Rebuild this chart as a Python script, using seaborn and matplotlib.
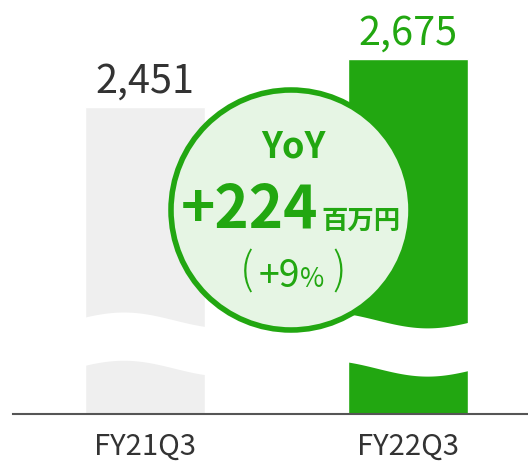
import numpy as np
import pandas as pd
import matplotlib.pyplot as plt
import seaborn as sns
from matplotlib.patches import Ellipse

# ---------------------------------------------------------------------------
# Data
# ---------------------------------------------------------------------------
periods = ["FY21Q3", "FY22Q3"]
sales = [2451, 2675]
value_labels = ["2,451", "2,675"]
yoy_diff = "+224"
yoy_unit = "百万円"
yoy_pct = "+9"

GREEN = "#22a711"
GRAY_BAR = "#efefef"
DARK = "#333333"
CIRCLE_FILL = "#e6f5e4"

sns.set_style("white")
plt.rcParams["font.family"] = ["Noto Sans CJK JP", "DejaVu Sans"]

W, H = 528, 466
fig = plt.figure(figsize=(W / 100, H / 100), dpi=100)
# axes laid out in pixel units of the target picture
ax = fig.add_axes([13 / W, 52.3 / H, 515 / W, 413.7 / H])

df = pd.DataFrame({"period": periods, "sales": sales})
sns.barplot(data=df, x="period", y="sales", hue="period",
            palette=[GRAY_BAR, GREEN], width=0.456, legend=False,
            saturation=1, ax=ax, zorder=1)

ax.set_xlim(-0.502, 1.456)
ax.set_ylim(1020, 2950)

# value labels above the bars
for i, (v, lab) in enumerate(zip(sales, value_labels)):
    ax.annotate(lab, (i, v), xytext=(0, 10), textcoords="offset points",
                ha="center", va="baseline", fontsize=28.5,
                color=DARK if i == 0 else GREEN)

# wavy axis break (white band across the bars)
xs = np.linspace(-0.6, 1.6, 400)
wave = 37 * np.cos(2 * np.pi * (xs + 0.08) / 0.77)
ax.fill_between(xs, 1230 + wave, 1455 + wave, color="white", lw=0, zorder=2)

# axis styling
for s in ["left", "top", "right"]:
    ax.spines[s].set_visible(False)
ax.spines["bottom"].set_color("#555555")
ax.spines["bottom"].set_linewidth(1.5)
ax.spines["bottom"].set_zorder(4)
ax.set_yticks([])
ax.set_xlabel("")
ax.set_ylabel("")
ax.tick_params(axis="x", length=0, pad=13, labelsize=21, labelcolor=DARK)

# YoY circle
circ = Ellipse((291 / W, 1 - 210 / H), 240 / W, 240 / H,
               transform=fig.transFigure, facecolor=CIRCLE_FILL,
               edgecolor=GREEN, lw=4, zorder=5, clip_on=False)
ax.add_patch(circ)

tf = fig.transFigure
ax.text(293 / W, 1 - 147 / H, "YoY", transform=tf, ha="center", va="center",
        fontsize=26, fontweight="bold", color=GREEN, zorder=6)
ax.text(318 / W, 1 - 228 / H, yoy_diff, transform=tf, ha="right",
        va="baseline", fontsize=42, fontweight="bold", color=GREEN, zorder=6)
ax.text(321 / W, 1 - 229 / H, yoy_unit, transform=tf, ha="left",
        va="baseline", fontsize=19, fontweight="bold", color=GREEN, zorder=6)
ax.text(300 / W, 1 - 287 / H, yoy_pct, transform=tf, ha="right",
        va="baseline", fontsize=27, color=GREEN, zorder=6)
ax.text(300 / W, 1 - 287 / H, "%", transform=tf, ha="left",
        va="baseline", fontsize=19, color=GREEN, zorder=6)
ax.text(254 / W, 1 - 285 / H, "(", transform=tf, ha="right",
        va="baseline", fontsize=31, fontweight="light", color=GREEN, zorder=6)
ax.text(332 / W, 1 - 285 / H, ")", transform=tf, ha="left",
        va="baseline", fontsize=31, fontweight="light", color=GREEN, zorder=6)

fig.savefig("out.png", dpi=100)
